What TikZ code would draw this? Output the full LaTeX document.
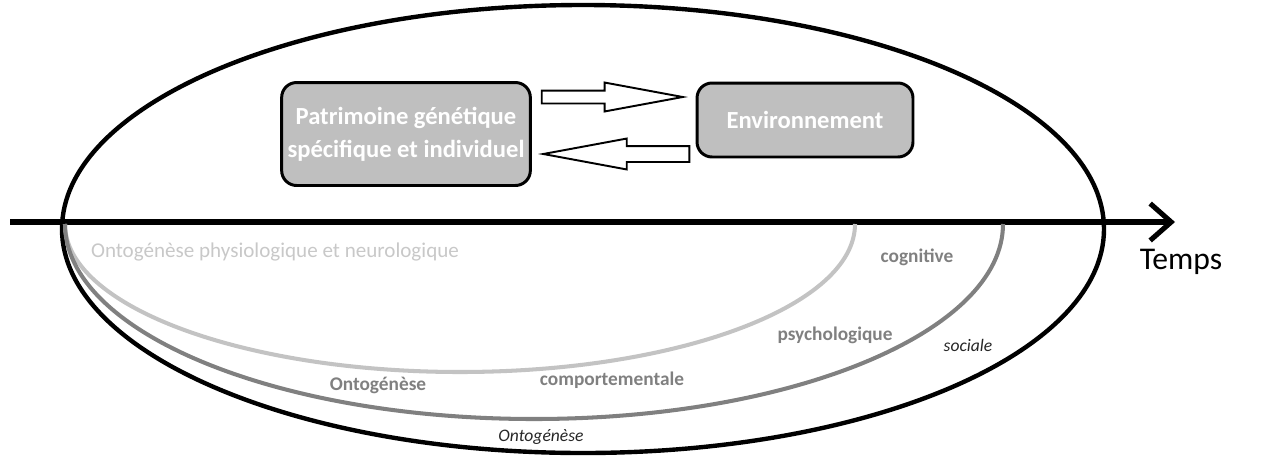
\documentclass[tikz,border=0pt]{standalone}
\usepackage{fontspec}
\setmainfont{Carlito}
\usetikzlibrary{arrows.meta,shapes.arrows}

\definecolor{boxgray}{RGB}{191,191,191}
\definecolor{palegray}{RGB}{195,195,195}
\definecolor{midgray}{RGB}{128,128,128}
\definecolor{textpale}{RGB}{200,200,200}

\tikzset{
  gbox/.style={draw=black, line width=1.7pt, rounded corners=0.3cm, fill=boxgray,
    text=white, font=\fontsize{14}{19}\selectfont\bfseries, align=center},
  blockarrow/.style={draw=black, fill=white, line width=1.1pt, shape=single arrow,
    single arrow tip angle=21, inner xsep=0pt},
  grlabel/.style={text=midgray, font=\fontsize{11}{13}\selectfont\bfseries},
  itlabel/.style={text=black!85, font=\fontsize{10}{12}\selectfont\itshape},
}

\begin{document}
\begin{tikzpicture}[x=0.02cm,y=-0.02cm]
    \useasboundingbox (0,0) rectangle (1270,457);

    % time axis
    \coordinate (t0) at (10,222);
    \coordinate (t1) at (1175,222);
    \draw[line width=2.9pt,-{Straight Barb[length=0.42cm,width=0.74cm]}](t0)--(t1);
    \node[font=\fontsize{18}{20}\selectfont] (temps) at (1181,262) {Temps};

    % big ellipse
    \draw[line width=2.5pt] (583,229) ellipse (521 and 224);

    % ontogenese curves
    \draw[palegray,line width=2.3pt] (65,224) arc[start angle=180,end angle=0,x radius=395,y radius=148];
    \draw[midgray,line width=2.3pt] (65,224) arc[start angle=180,end angle=0,x radius=469,y radius=195];

    \node[text=textpale,font=\fontsize{12}{14}\selectfont] (physio) at (275,252) {Ontogénèse physiologique et neurologique};
    \node[grlabel] (cogn) at (917,257) {cognitive};
    \node[grlabel] (psycho) at (835,335) {psychologique};
    \node[itlabel] (soc) at (968,345) {sociale};
    \node[grlabel] (comport) at (612,380) {comportementale};
    \node[grlabel] (onto) at (378,385) {Ontogénèse};
    \node[itlabel] (ontosoc) at (541,437) {Ontogénèse};

    % boxes
    \node[gbox,minimum width=4.96cm,minimum height=2.06cm] (patri) at (406,134) {Patrimoine génétique\\spécifique et individuel};
    \node[gbox,minimum width=4.32cm,minimum height=1.48cm] (env) at (805,120) {Environnement};

    \node[blockarrow,inner ysep=0.11cm,single arrow head extend=0.16cm,minimum height=2.82cm,anchor=tip] (toenv) at (688,97) {};
    \node[blockarrow,inner ysep=0.14cm,single arrow head extend=0.15cm,minimum height=2.92cm,shape border rotate=180,anchor=tip] (topatri) at (538,154) {};
\end{tikzpicture}
\end{document}
